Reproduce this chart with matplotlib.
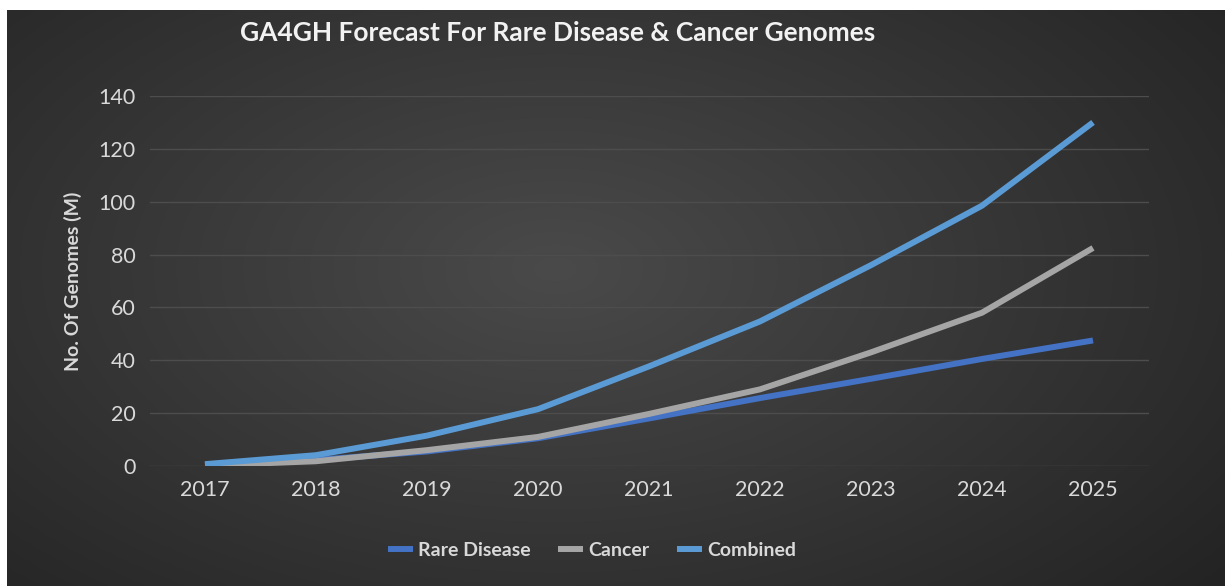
import numpy as np
import matplotlib.pyplot as plt

years = ["2017", "2018", "2019", "2020", "2021", "2022", "2023", "2024", "2025"]
rare_disease = [0.5, 2.3, 5.5, 10.5, 18, 25.7, 33, 40.5, 47.5]
cancer = [0.2, 1.8, 6, 11, 19.7, 29, 43, 58, 82.5]
combined = [0.7, 4.1, 11.5, 21.5, 37.7, 54.7, 76, 98.5, 130]

W, H = 1225, 586
fig = plt.figure(figsize=(W / 100, H / 100), dpi=100)
fig.patch.set_facecolor("white")

# dark radial gradient panel
bg = fig.add_axes([7 / W, 0, 1 - 7 / W, 1 - 10 / H])
bg.set_axis_off()
yy, xx = np.mgrid[0:1:300j, 0:1:600j]
r = np.sqrt(((xx - 0.45) / 0.75) ** 2 + ((yy - 0.45) / 0.9) ** 2)
shade = np.clip(0.29 - 0.16 * r, 0.14, 0.29)
bg.imshow(np.dstack([shade] * 3), aspect="auto", extent=[0, 1, 0, 1])

ax = fig.add_axes([149.5 / W, 120 / H, 999 / W, 370 / H])
ax.patch.set_alpha(0)
x = np.arange(len(years))
ax.plot(x, rare_disease, color="#4472C4", lw=4.3, label="Rare Disease", solid_capstyle="butt")
ax.plot(x, cancer, color="#A5A5A5", lw=4.3, label="Cancer", solid_capstyle="butt")
ax.plot(x, combined, color="#5B9BD5", lw=4.3, label="Combined", solid_capstyle="butt")

ax.set_xlim(-0.5, 8.5)
ax.set_ylim(0, 140)
ax.set_yticks(range(0, 141, 20))
ax.set_xticks(x)
ax.set_xticklabels(years)
ax.grid(axis="y", color="#4d4d4d", lw=1)
ax.set_axisbelow(True)
for s in ax.spines.values():
    s.set_visible(False)
ax.tick_params(length=0, colors="#d9d9d9", labelsize=15.5)
ax.tick_params(axis="x", pad=10)
ax.tick_params(axis="y", pad=10)
for lab in ax.get_xticklabels() + ax.get_yticklabels():
    lab.set_family("Lato")

ax.set_ylabel("No. Of Genomes (M)", color="#d9d9d9", fontsize=14,
              fontweight="bold", family="Lato", labelpad=12)

fig.text(0.455, 1 - 33 / H, "GA4GH Forecast For Rare Disease & Cancer Genomes",
         color="#f2f2f2", fontsize=19, fontweight="bold", family="Lato",
         ha="center", va="center")

leg = ax.legend(loc="center", ncol=3, frameon=False,
                prop={"family": "Lato", "weight": "bold", "size": 14},
                handlelength=1.3, columnspacing=1.4, handletextpad=0.25)
for t in leg.get_texts():
    t.set_color("#d9d9d9")
leg.set_bbox_to_anchor((592 / W, 1 - 550 / H), transform=fig.transFigure)

fig.savefig("out.png", dpi=100)
